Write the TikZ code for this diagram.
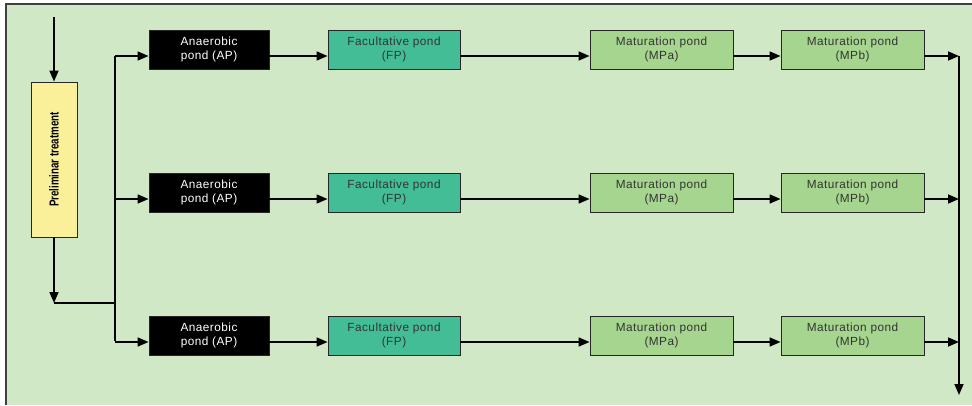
\documentclass[tikz,border=0pt]{standalone}
\usepackage{fontspec}
\setmainfont{Liberation Sans}
\newfontfamily\boxfont[LetterSpace=4]{Liberation Sans}
\usetikzlibrary{arrows.meta}
\definecolor{panel}{HTML}{D0E8C6}
\definecolor{fpcol}{HTML}{42BD96}
\definecolor{mpcol}{HTML}{A6D58F}
\definecolor{precol}{HTML}{FAF09A}
\definecolor{txt}{HTML}{333333}
\begin{document}
\begin{tikzpicture}[x=1pt,y=-1pt,
  pond/.style={draw=black!85,line width=0.9pt,inner sep=0pt,align=center,
    font=\boxfont\fontsize{11.8}{13.5}\selectfont,text=txt,minimum height=39pt},
  ap/.style={pond,fill=black,text=white,minimum width=120pt},
  fp/.style={pond,fill=fpcol,minimum width=132pt},
  mp/.style={pond,fill=mpcol,minimum width=143pt},
  arr/.style={line width=1.6pt,-{Triangle[length=11pt,width=9pt]}},
  ln/.style={line width=1.6pt}]
\useasboundingbox (0,0) rectangle (972,405);
\fill[white] (0,0) rectangle (972,405);
\fill[panel] (6,4) rectangle (972,405);
\draw[black!75,line width=1.4pt] (6,405) -- (6,4) -- (972,4);
% preliminary
\node[draw=black!85,line width=0.9pt,fill=precol,minimum width=46pt,minimum height=155pt,inner sep=0pt] (pre) at (54,159.5) {};
\node[rotate=90,inner sep=0pt] (pretxt) at (54,159.5) {\scalebox{0.75}[1]{\fontsize{13}{14}\selectfont\bfseries Preliminar treatment}};
\coordinate (in) at (54,17);
\coordinate (drop) at (54,303);
\coordinate (bj) at (115,303);
\coordinate (btop) at (115,56);
\coordinate (bbot) at (115,341);
\draw[arr] (in) -- (pre.north);
\draw[arr] (pre.south) -- (drop);
\draw[ln] (drop) -- (bj);
\draw[ln] (btop) -- (bbot);
\coordinate (rtop) at (959,56);
\coordinate (rend) at (959,395);
\draw[arr] (rtop) -- (rend);
\foreach \i/\yc in {1/49.5,2/192.5,3/335.5}{
  \node[ap] (ap\i) at (209,\yc) {Anaerobic\\pond (AP)};
  \node[fp] (fp\i) at (394,\yc) {Facultative pond\\(FP)};
  \node[mp] (ma\i) at (661.5,\yc) {Maturation pond\\(MPa)};
  \node[mp] (mb\i) at (852.5,\yc) {Maturation pond\\(MPb)};
  \coordinate (b\i) at (115,\yc+6.5);
  \coordinate (r\i) at (959,\yc+6.5);
  \draw[arr] (b\i) -- (ap\i.west |- b\i);
  \draw[arr] (ap\i.east |- b\i) -- (fp\i.west |- b\i);
  \draw[arr] (fp\i.east |- b\i) -- (ma\i.west |- b\i);
  \draw[arr] (ma\i.east |- b\i) -- (mb\i.west |- b\i);
  \draw[arr] (mb\i.east |- b\i) -- (r\i);
}
\end{tikzpicture}
\end{document}
